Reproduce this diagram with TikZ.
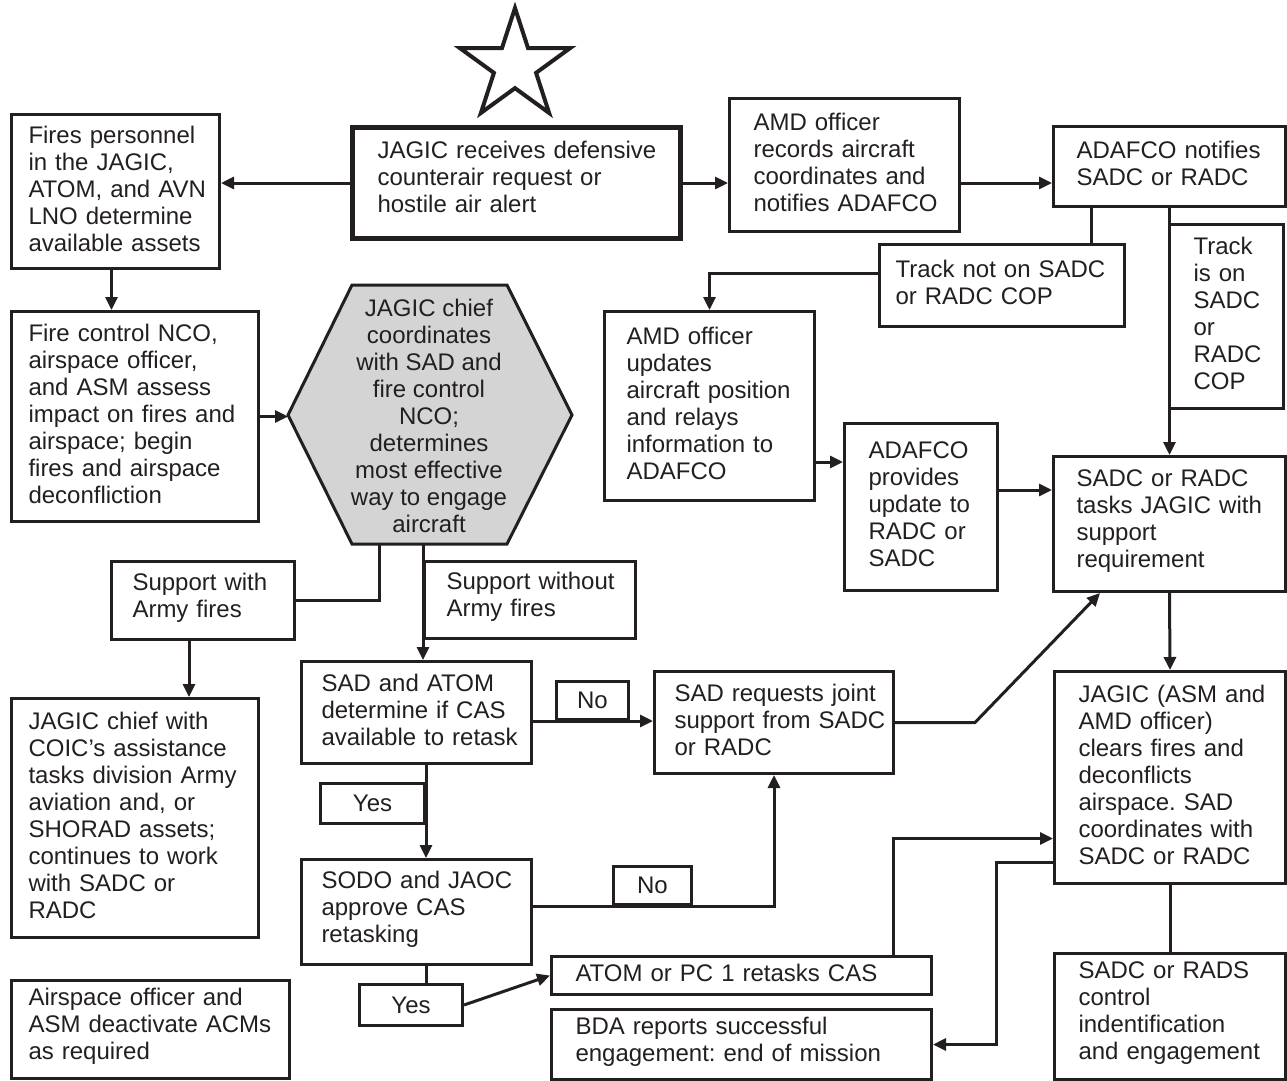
\documentclass[tikz,border=0pt]{standalone}
\usepackage{fontspec}
\setmainfont{Liberation Sans}
\frenchspacing
\usetikzlibrary{arrows.meta,shapes.geometric}
\definecolor{ink}{HTML}{231F20}
\definecolor{hexfill}{HTML}{D4D4D4}
\newcommand\boxfont{\fontsize{24}{27}\selectfont}
\tikzset{
  box/.style n args={3}{draw=ink,line width=3pt,anchor=north west,align=left,text=ink,
    font=\boxfont,minimum width=#1,minimum height=#2,inner xsep=3pt,inner ysep=0pt,
    text width={#1-6pt},execute at begin node={\leftskip=\dimexpr#3pt-3pt\relax},
    execute at end node={\par\kern6pt}},
  tag/.style n args={2}{draw=ink,line width=3pt,anchor=north west,text=ink,
    font=\boxfont,minimum width=#1,minimum height=#2,inner sep=0pt},
  link/.style={draw=ink,line width=3pt},
  arr/.style={link,-{Triangle[length=13pt,width=12pt]}},
}
\begin{document}
\begin{tikzpicture}[x=1pt,y=-1pt]
\useasboundingbox (0,0) rectangle (1287,1080);
\node[star,star points=5,star point ratio=2.618,minimum size=116pt,inner sep=0pt,
  draw=ink,line width=4pt] (badge) at (515,66) {};
\node[box={328}{111}{25},line width=5pt,execute at end node={\kern6pt}] (recv) at (350,125) {JAGIC receives defensive\\counterair request or\\hostile air alert};
\node[box={208}{154}{17}] (pers) at (10,113) {Fires personnel\\in the JAGIC,\\ATOM, and AVN\\LNO determine\\available assets};
\node[box={230}{133}{24}] (amdrec) at (728,97) {AMD officer\\records aircraft\\coordinates and\\notifies ADAFCO};
\node[box={232}{80}{23}] (adnot) at (1052,125) {ADAFCO notifies\\SADC or RADC};
\node[box={245}{82}{16}] (tnot) at (878,243) {Track not on SADC\\or RADC COP};
\node[box={114}{184}{24}] (tis) at (1168,223) {Track\\is on\\SADC\\or\\RADC\\COP};
\node[box={210}{189}{22}] (amdupd) at (603,310) {AMD officer\\updates\\aircraft position\\and relays\\information to\\ADAFCO};
\node[box={153}{167}{24}] (adprov) at (843,422) {ADAFCO\\provides\\update to\\RADC or\\SADC};
\node[box={232}{135}{23}] (sadtask) at (1052,455) {SADC or RADC\\tasks JAGIC with\\support\\requirement};
\node[box={247}{210}{17}] (fcnco) at (10,310) {Fire control NCO,\\airspace officer,\\and ASM assess\\impact on fires and\\airspace; begin\\fires and airspace\\deconfliction};
\coordinate (hexW) at (288,415);
\coordinate (hexS1) at (379,544);
\coordinate (hexS2) at (423,544);
\draw[link,fill=hexfill] (hexW)--(352,285)--(507,285)--(572,415)--(507,544)--(352,544)--cycle;
\node[font=\boxfont,text=ink,align=center,inner sep=0pt] (chief) at (429,416) {JAGIC chief\\coordinates\\with SAD and\\fire control\\NCO;\\determines\\most effective\\way to engage\\aircraft};
\node[box={183}{78}{21}] (withf) at (110,560) {Support with\\Army fires};
\node[box={211}{77}{22}] (wof) at (423,560) {Support without\\Army fires};
\node[box={247}{239}{17}] (coic) at (10,697) {JAGIC chief with\\COIC’s assistance\\tasks division Army\\aviation and, or\\SHORAD assets;\\continues to work\\with SADC or\\RADC};
\node[box={230}{102}{20}] (cas) at (300,660) {SAD and ATOM\\determine if CAS\\available to retask};
\node[tag={72}{38}] (no1) at (555,680) {No};
\node[box={239}{102}{20}] (joint) at (653,670) {SAD requests joint\\support from SADC\\or RADC};
\node[tag={104}{40}] (yes1) at (319,782) {Yes};
\node[box={230}{105}{20}] (sodo) at (300,858) {SODO and JAOC\\approve CAS\\retasking};
\node[tag={78}{38}] (no2) at (612,865) {No};
\node[tag={103}{41}] (yes2) at (358,983) {Yes};
\node[box={380}{38}{24}] (retask) at (550,955) {ATOM or PC 1 retasks CAS};
\node[box={380}{70}{24}] (bda) at (550,1008) {BDA reports successful\\engagement: end of mission};
\node[box={231}{212}{24}] (clear) at (1053,670) {JAGIC (ASM and\\AMD officer)\\clears fires and\\deconflicts\\airspace. SAD\\coordinates with\\SADC or RADC};
\node[box={231}{126}{24}] (rads) at (1053,952) {SADC or RADS\\control\\indentification\\and engagement};
\node[box={278}{98}{17}] (acm) at (10,979) {Airspace officer and\\ASM deactivate ACMs\\as required};

\draw[arr] (recv.west) -- (recv.west -| pers.east);
\draw[arr] (recv.east) -- (recv.east -| amdrec.west);
\draw[arr] (amdrec.east |- recv.east) -- (recv.east -| adnot.west);
\draw[arr] ([xshift=-4pt]pers.south) -- ([xshift=-4pt]pers.south |- fcnco.north);
\draw[arr] (fcnco.east) -- (fcnco.east -| hexW);
\draw[link] ([xshift=39pt]adnot.south west) -- ([xshift=39pt]adnot.south west |- tnot.north);
\draw[arr] ([yshift=12pt]tnot.west) -| (amdupd.north);
\draw[arr] (adnot.south) -- (sadtask.north);
\draw[arr] ([yshift=-56pt]amdupd.east) -- ([yshift=-56pt]amdupd.east -| adprov.west);
\draw[arr] ([yshift=17pt]adprov.east) -- ([yshift=17pt]adprov.east -| sadtask.west);
\draw[link] (hexS1) |- (withf.east);
\draw[arr] (hexS2) -- (hexS2 |- cas.north);
\draw[arr] ([xshift=-14pt]withf.south) -- ([xshift=-14pt]withf.south |- coic.north);
\draw[arr] (cas.east |- no1.south) -- (no1.south -| joint.west);
\draw[arr] (cas.south -| yes1.east) -- (yes1.east |- sodo.north);
\draw[arr] (sodo.east |- no2.south) -| (joint.south);
\draw[link] (sodo.south -| yes1.east) -- (yes1.east |- yes2.north);
\draw[arr] (yes2.east) -- (retask.west);
\draw[arr] ([xshift=-40pt]retask.north east) |- ([yshift=-61pt]clear.west);
\draw[arr] ([yshift=-85pt]clear.west) -- ++(-57,0) |- (bda.east);
\draw[arr] (joint.east) -- ++(80,0) -- ([xshift=48pt]sadtask.south west);
\draw[arr] (sadtask.south) -- (clear.north);
\draw[link] (clear.south) -- (rads.north);
\end{tikzpicture}
\end{document}
